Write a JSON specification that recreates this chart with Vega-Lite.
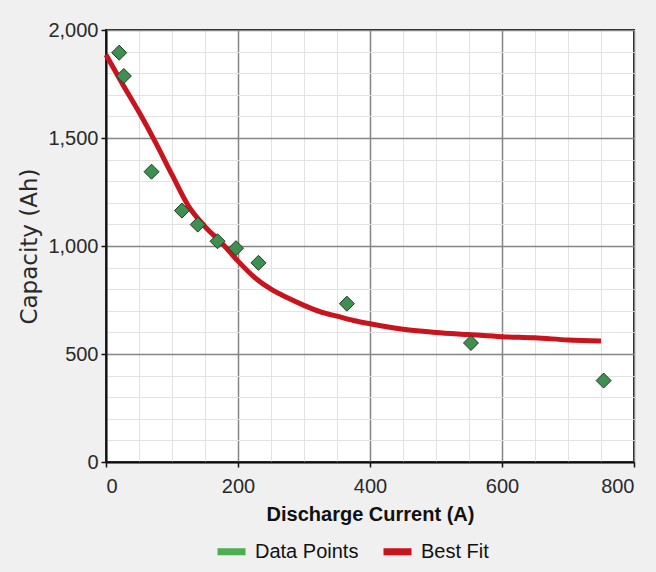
{
  "$schema": "https://vega.github.io/schema/vega-lite/v6.json",
  "width": 528,
  "height": 432,
  "autosize": {"type": "none"},
  "padding": {"left": 106, "top": 30, "right": 22, "bottom": 110},
  "background": "#f0f0f0",
  "config": {
    "view": {"fill": "white", "stroke": "#1a1a1a", "strokeWidth": 2},
    "font": "Liberation Sans",
    "axis": {"labelFont": "Liberation Sans", "titleFont": "Liberation Sans"}
  },
  "datasets": {
    "points": [
      {"current": 20, "capacity": 1895},
      {"current": 27, "capacity": 1787},
      {"current": 69, "capacity": 1344},
      {"current": 115, "capacity": 1164},
      {"current": 139, "capacity": 1099},
      {"current": 169, "capacity": 1022},
      {"current": 197, "capacity": 990},
      {"current": 231, "capacity": 922},
      {"current": 365, "capacity": 733},
      {"current": 553, "capacity": 551},
      {"current": 754, "capacity": 377}
    ],
    "fit": [
      {"current": 0, "capacity": 1885},
      {"current": 25, "capacity": 1750},
      {"current": 50, "capacity": 1620},
      {"current": 75, "capacity": 1480},
      {"current": 100, "capacity": 1330},
      {"current": 125, "capacity": 1185},
      {"current": 150, "capacity": 1090},
      {"current": 175, "capacity": 1015},
      {"current": 200, "capacity": 930},
      {"current": 225, "capacity": 855},
      {"current": 250, "capacity": 800},
      {"current": 275, "capacity": 760},
      {"current": 300, "capacity": 725},
      {"current": 325, "capacity": 695},
      {"current": 350, "capacity": 675},
      {"current": 375, "capacity": 655},
      {"current": 400, "capacity": 640},
      {"current": 450, "capacity": 615},
      {"current": 500, "capacity": 600},
      {"current": 550, "capacity": 590},
      {"current": 600, "capacity": 580},
      {"current": 650, "capacity": 575},
      {"current": 700, "capacity": 565},
      {"current": 750, "capacity": 560}
    ]
  },
  "layer": [
    {
      "data": {"name": "points"},
      "mark": {"type": "point", "opacity": 0},
      "encoding": {
        "x": {"field": "current", "type": "quantitative", "scale": {"domain": [0, 800], "nice": false},
          "axis": {"orient": "bottom", "values": [0,50,100,150,200,250,300,350,400,450,500,550,600,650,700,750,800], "grid": true, "gridColor": "#e2e2e2", "gridWidth": 1, "domain": false, "ticks": false, "labels": false, "title": null}},
        "y": {"field": "capacity", "type": "quantitative", "scale": {"domain": [0, 2000], "nice": false},
          "axis": {"orient": "left", "values": [0,100,200,300,400,500,600,700,800,900,1000,1100,1200,1300,1400,1500,1600,1700,1800,1900,2000], "grid": true, "gridColor": "#e2e2e2", "gridWidth": 1, "domain": false, "ticks": false, "labels": false, "title": null}}
      }
    },
    {
      "data": {"name": "fit"},
      "mark": {"type": "line", "strokeWidth": 5, "interpolate": "monotone"},
      "encoding": {
        "x": {"field": "current", "type": "quantitative",
          "axis": {"orient": "bottom", "values": [0,200,400,600,800], "format": "d", "grid": true, "gridColor": "#858585", "gridWidth": 1.5,
            "domainColor": "#111", "domainWidth": 2, "tickColor": "#111", "tickSize": 5, "tickWidth": 1.5,
            "labelFontSize": 20, "labelColor": "#2a2a2a", "labelPadding": 9,
            "title": "Discharge Current (A)", "titleFontSize": 20, "titleFontWeight": "bold", "titleColor": "#111", "titlePadding": 8}},
        "y": {"field": "capacity", "type": "quantitative",
          "axis": {"orient": "left", "values": [0,500,1000,1500,2000], "format": ",d", "formatType": "number", "grid": true, "gridColor": "#858585", "gridWidth": 1.5,
            "domainColor": "#111", "domainWidth": 2, "tickColor": "#111", "tickSize": 5, "tickWidth": 1.5,
            "labelFontSize": 20, "labelColor": "#2a2a2a", "labelPadding": 3,
            "title": "Capacity (Ah)", "titleFont": "DejaVu Sans", "titleFontSize": 23, "titleFontWeight": "normal", "titleColor": "#2a2a2a", "titlePadding": 6}},
        "color": {"datum": "Best Fit", "type": "nominal",
          "scale": {"domain": ["Data Points", "Best Fit"], "range": ["#4caf50", "#c8141c"]},
          "legend": {"orient": "none", "legendX": 108, "legendY": 504, "direction": "horizontal", "title": null,
            "symbolType": "stroke", "symbolSize": 784, "symbolStrokeWidth": 7, "labelFontSize": 20, "labelColor": "#111",
            "labelOffset": 6, "columnPadding": 10}}
      }
    },
    {
      "data": {"name": "points"},
      "mark": {"type": "point", "shape": "diamond", "size": 225, "filled": true, "fill": "#3f8f50", "stroke": "#1d3b22", "strokeWidth": 1, "opacity": 1},
      "encoding": {
        "x": {"field": "current", "type": "quantitative", "axis": null},
        "y": {"field": "capacity", "type": "quantitative", "axis": null}
      }
    }
  ],
  "resolve": {"axis": {"x": "independent", "y": "independent"}}
}
